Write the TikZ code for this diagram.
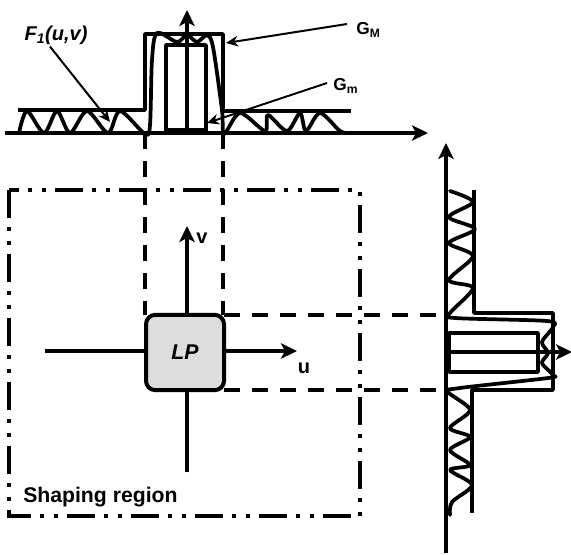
\documentclass[tikz,border=0pt]{standalone}
\usepackage{fontspec}
\setmainfont{Liberation Sans}
\usetikzlibrary{arrows.meta, positioning, patterns}

\begin{document}
\begin{tikzpicture}[x=0.75pt, y=-0.75pt,
    axis/.style={-{Stealth[length=12pt, width=11.5pt, inset=3pt]}, line width=3pt},
    leader/.style={-{Stealth[length=9pt, width=8pt]}, line width=1.5pt},
    level/.style={line width=2.8pt, line join=round},
    wave/.style={line width=2.8pt, line join=round, line cap=round},
    guide/.style={line width=2.8pt, dash pattern=on 12pt off 9pt},
    lbl/.style={font=\bfseries, inner sep=0pt}
]
\useasboundingbox (0,0) rectangle (571,554);

% --- Grid Coordinates ---
\def\cV{187}  % v axis
\def\rT{315}  % LP top
\def\rB{390}  % LP bottom
\def\rU{351}  % u axis

% --- Shaping region ---
\draw[line width=2.9pt, dash pattern=on 21pt off 7pt on 3pt off 7pt on 3pt off 7pt]
    (9,190) rectangle (360,516);
\node[lbl, font=\bfseries\fontsize{15.9}{18}\selectfont, anchor=west] (shaping) at (23,497) {Shaping region};

% --- LP box and its axes ---
\draw[line width=2.7pt] (\cV,472) -- (\cV,390);
\draw[line width=2.7pt] (45,\rU) -- (146,\rU);
\node[rectangle, draw, line width=3pt, rounded corners=7pt, outer sep=0pt,
      preaction={fill=gray!30}, pattern=crosshatch dots, pattern color=white,
      minimum width=58.5pt, minimum height=56.5pt, inner sep=0pt,
      font=\bfseries\itshape\fontsize{16}{18}\selectfont] (lp) at (185,352.5) {LP};
\coordinate (utip) at (297,\rU);
\coordinate (vtip) at (\cV,226);
\draw[axis, line width=2.7pt] (lp.east |- utip) -- (utip);
\draw[axis, line width=2.7pt] (lp.north -| vtip) -- (vtip);
\node[lbl, font=\bfseries\fontsize{15}{18}\selectfont] (ulabel) at (304,368) {u};
\node[lbl, font=\bfseries\fontsize{15}{18}\selectfont] (vlabel) at (202,238) {v};

% --- Guides ---
\coordinate (topl) at (145,133);
\coordinate (topr) at (223,133);
\coordinate (sidet) at (446,\rT);
\coordinate (sideb) at (446,\rB);
\draw[guide] (topl) -- (topl |- lp.north);
\draw[guide] (topr) -- (topr |- lp.north);
\draw[guide] (sidet -| lp.east) -- (sidet);
\draw[guide] (sideb -| lp.east) -- (sideb);

% --- Top spectrum ---
\coordinate (hstart) at (5,133);
\coordinate (hend) at (428,133);
\coordinate (hmid) at (\cV,133);
\coordinate (htip) at (\cV,10);
\draw[axis] (hstart) -- (hend);
\draw[axis] (hmid) -- (htip);
\draw[level] (18,110) -- (145,110) -- (145,34) -- (223,34) -- (223,111) -- (351,111);
\draw[level] (166,133) -- (166,45) -- (206,45) -- (206,133);
\draw[line width=4pt] (166,131) -- (206,131);
\draw[wave] plot[smooth, tension=0.5] coordinates {
    (19,133) (27,111) (44,133) (57,111) (70,133) (87,111) (108,133) (120,111) (145,134)
    (150,125) (152,60) (157,33) (177,42) (187,35) (197,42) (207,35) (213,47) (222,110) (224,134)
    (240,113) (265,131) (268,115) (287,131) (300,113) (306,131) (320,113) (340,131) (350,133)};

% --- Side spectrum ---
\coordinate (vstart) at (446,553);
\coordinate (vend) at (446,143);
\coordinate (rstart) at (446,352);
\coordinate (rend) at (572,352);
\draw[axis] (vstart) -- (vend);
\draw[axis] (rstart) -- (rend);
\draw[level] (474,190) -- (474,313) -- (553,313) -- (553,390) -- (472,390) -- (472,513);
\draw[level] (538,372) -- (538,333) -- (449,333) -- (449,372) -- cycle;
\draw[wave] plot[smooth, tension=0.5] coordinates {
    (450,191) (473,202) (449,217) (475,229) (449,243) (473,256) (449,280) (473,288) (450,313)
    (455,318) (547,321) (553,327) (542,342) (548,353) (542,363) (553,375) (548,378) (460,388) (448,392)
    (470,410) (450,428) (470,437) (450,450) (470,465) (450,470) (472,485) (452,502) (450,515)};

% --- Labels and leaders ---
\node[lbl, font=\bfseries\itshape\fontsize{15}{18}\selectfont] (fone) at (56,35) {F\textsubscript{1}(u,v)};
\node[lbl, font=\bfseries\fontsize{13}{15}\selectfont, anchor=west] (gmax) at (356,30) {G\textsubscript{M}};
\node[lbl, font=\bfseries\fontsize{13}{15}\selectfont, anchor=west] (gmin) at (333,86) {G\textsubscript{m}};
\coordinate (fonetip) at (110,122);
\coordinate (gmaxtip) at (226,43);
\coordinate (gmintip) at (207,123);
\draw[leader] (fone.south) ++(-6,2) -- (fonetip);
\draw[leader] (gmax.west) ++(-9,-6) -- (gmaxtip);
\draw[leader] (gmin.west) ++(-6,-3) -- (gmintip);

\end{tikzpicture}
\end{document}
